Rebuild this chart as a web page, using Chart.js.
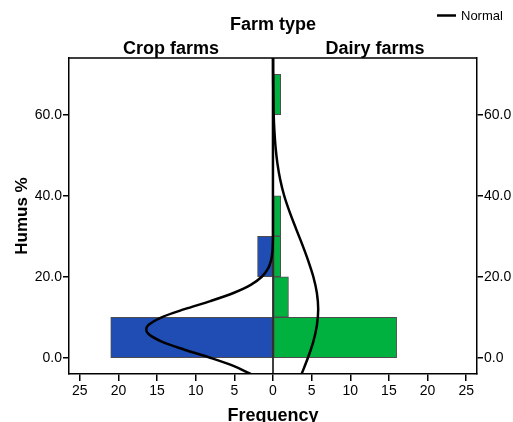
<!DOCTYPE html>
<html>
<head>
<meta charset="utf-8">
<script src="https://cdn.jsdelivr.net/npm/chart.js@4/dist/chart.umd.min.js"></script>
<style>
  body { margin: 0; background: #fff; }
  canvas { display: block; }
</style>
</head>
<body>
<canvas id="pyramid" width="513" height="422"></canvas>
<script>
// histogram bins (Humus %, width 10) and counts per farm type
var binCenters = [5, 15, 25, 35, 45, 55, 65];
var cropCounts = [21, 0, 2, 0, 0, 0, 0];
var dairyCounts = [16, 2, 1, 1, 0, 0, 1];

// normal curves
var cropCurveY = [-4, -2, 0, 2, 4, 6, 7, 8, 10, 12, 14, 16, 18, 20, 22, 24, 26, 28, 30, 74];
var cropCurveX = [2.88, 5.12, 8.11, 11.45, 14.41, 16.17, 16.4, 16.17, 14.41, 11.45, 8.11, 5.12, 2.88, 1.45, 0.65, 0.26, 0.09, 0.03, 0.01, 0];
var dairyCurveY = [-4, 0, 4, 8, 12, 16, 20, 24, 28, 32, 36, 40, 44, 48, 52, 56, 60, 64, 68, 74];
var dairyCurveX = [3.7, 4.52, 5.22, 5.68, 5.85, 5.68, 5.22, 4.55, 3.78, 2.95, 2.15, 1.45, 0.93, 0.57, 0.33, 0.18, 0.09, 0.05, 0.02, 0.01];

var yTicks = [0, 20, 40, 60];
var xTicks = [-25, -20, -15, -10, -5, 0, 5, 10, 15, 20, 25];

var FONT = "'Liberation Sans', Arial, sans-serif";

function bars(counts, sign) {
  return binCenters.map(function(c, i) {
    return { x: counts[i] ? sign * counts[i] : null, y: c };
  });
}
function curve(xs, ys, sign) {
  return ys.map(function(y, i) { return { x: sign * xs[i], y: y }; });
}

var headers = {
  id: 'headers',
  afterDatasetsDraw: function(chart) {
    var ctx = chart.ctx, a = chart.chartArea, x0 = chart.scales.x.getPixelForValue(0);
    ctx.save();
    ctx.strokeStyle = '#000';
    ctx.lineWidth = 1.5;
    ctx.beginPath();
    ctx.moveTo(x0, a.top); ctx.lineTo(x0, a.bottom);
    ctx.moveTo(a.left, a.top); ctx.lineTo(a.right, a.top);
    ctx.stroke();
    ctx.fillStyle = '#000';
    ctx.textAlign = 'center';
    ctx.textBaseline = 'alphabetic';
    ctx.font = 'bold 18px ' + FONT;
    ctx.fillText('Farm type', (a.left + a.right) / 2, 30);
    ctx.fillText('Crop farms', (a.left + x0) / 2, 54);
    ctx.fillText('Dairy farms', (x0 + a.right) / 2, 54);
    // legend
    ctx.lineWidth = 2.5;
    ctx.beginPath();
    ctx.moveTo(437, 15.5); ctx.lineTo(456, 15.5);
    ctx.stroke();
    ctx.textAlign = 'left';
    ctx.font = '13px ' + FONT;
    ctx.fillText('Normal', 461, 20);
    ctx.restore();
  }
};

var yAxis = function(pos, w) {
  return {
    type: 'linear', position: pos, min: -4, max: 74, offset: false,
    afterBuildTicks: function(s) { s.ticks = yTicks.map(function(v) { return { value: v }; }); },
    afterFit: function(s) { s.width = w; },
    ticks: { color: '#000', font: { family: FONT, size: 14 }, padding: 1,
      callback: function(v) { return v.toFixed(1); } },
    grid: { offset: false, drawOnChartArea: false, tickLength: 6, color: '#000', lineWidth: 1.5 },
    border: { color: '#000', width: 1.5 }
  };
};

var yLeft = yAxis('left', 69);
yLeft.title = { display: true, text: 'Humus %', color: '#000',
  font: { family: FONT, size: 17, weight: 'bold' }, padding: { top: 12, bottom: 0 } };

new Chart(document.getElementById('pyramid'), {
  type: 'bar',
  data: {
    datasets: [
      { type: 'line', indexAxis: 'y', label: 'Normal', data: curve(cropCurveX, cropCurveY, -1),
        borderColor: '#000', borderWidth: 2.5, pointRadius: 0, cubicInterpolationMode: 'monotone', order: 0 },
      { type: 'line', indexAxis: 'y', label: 'Normal', data: curve(dairyCurveX, dairyCurveY, 1),
        borderColor: '#000', borderWidth: 2.5, pointRadius: 0, cubicInterpolationMode: 'monotone', order: 0 },
      { label: 'Crop farms', indexAxis: 'y', data: bars(cropCounts, -1), grouped: false,
        backgroundColor: '#1f4db3', borderColor: '#4d4d4d', borderWidth: 1, borderSkipped: false,
        barPercentage: 1, categoryPercentage: 1, order: 1 },
      { label: 'Dairy farms', indexAxis: 'y', data: bars(dairyCounts, 1), grouped: false,
        backgroundColor: '#00b140', borderColor: '#4d4d4d', borderWidth: 1, borderSkipped: false,
        barPercentage: 1, categoryPercentage: 1, order: 1 }
    ]
  },
  options: {
    responsive: false,
    animation: false,
    indexAxis: 'y',
    devicePixelRatio: 1,
    layout: { padding: { top: 58, left: 0, right: 0, bottom: 0 } },
    plugins: { legend: { display: false }, tooltip: { enabled: false } },
    scales: {
      x: {
        type: 'linear', position: 'bottom', min: -26.4, max: 26.4, offset: false,
        afterBuildTicks: function(s) { s.ticks = xTicks.map(function(v) { return { value: v }; }); },
        afterFit: function(s) { s.height = 48; },
        ticks: { color: '#000', font: { family: FONT, size: 14 }, padding: 2, maxRotation: 0,
          callback: function(v) { return Math.abs(v); } },
        grid: { offset: false, drawOnChartArea: false, tickLength: 7, color: '#000', lineWidth: 1.5 },
        border: { color: '#000', width: 1.5 },
        title: { display: true, text: 'Frequency', color: '#000',
          font: { family: FONT, size: 18, weight: 'bold' }, padding: { top: 0, bottom: -4.5 } }
      },
      y: yLeft,
      y2: yAxis('right', 36)
    }
  },
  plugins: [headers]
});
</script>
</body>
</html>
